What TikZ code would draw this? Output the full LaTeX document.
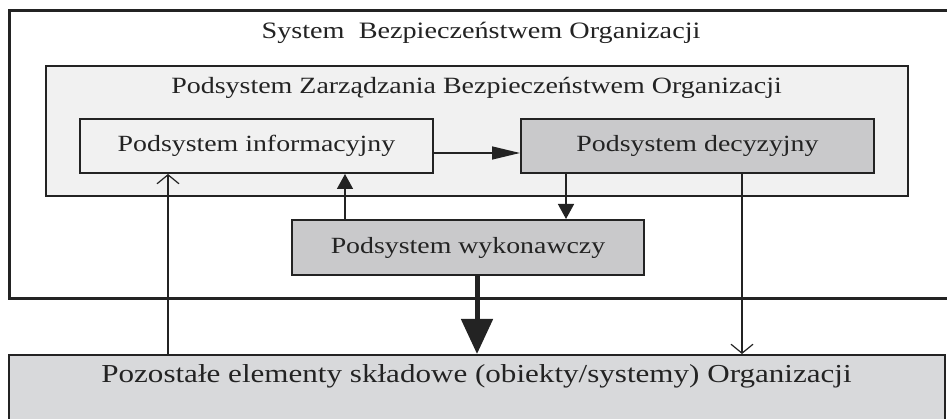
\documentclass[tikz,border=0pt]{standalone}
\usepackage{fontspec}
\setmainfont[FakeStretch=1.2]{Liberation Serif}
\usetikzlibrary{arrows.meta}

\definecolor{inkc}{RGB}{35,35,35}
\definecolor{paleg}{RGB}{241,241,241}
\definecolor{midg}{RGB}{201,201,203}
\definecolor{lowg}{RGB}{216,217,219}

\tikzset{
  frame/.style={draw=inkc, rectangle, inner sep=0pt},
  lbl/.style={text=inkc, inner sep=0pt, font=\fontsize{23.2}{27}\selectfont},
  flow/.style={draw=inkc, line width=1.5pt, -{Triangle[length=15pt,width=16pt]}},
  openflow/.style={draw=inkc, line width=1.5pt, -{Straight Barb[length=9pt,width=22pt,line width=1.2pt]}},
  bigflow/.style={draw=inkc, line width=5pt, -{Triangle[length=35pt,width=31pt]}}
}

\begin{document}
\begin{tikzpicture}[x=1pt,y=-1pt]
\useasboundingbox (0,0) rectangle (947,419);
\clip (0,0) rectangle (947,419);
\fill[white] (0,0) rectangle (947,419);

% outer system frame (runs past the right edge)
\node[frame, line width=3pt, minimum width=951pt, minimum height=288pt] (sys) at (484.5,155) {};
\node[lbl, font=\fontsize{23.5}{28}\selectfont] (systitle) at (481,33) {System\ \ Bezpieczeństwem Organizacji};

% management subsystem
\node[frame, line width=2pt, fill=paleg, minimum width=862pt, minimum height=130pt] (mgmt) at (477,131) {};
\node[lbl, font=\fontsize{23.3}{28}\selectfont] (mgmttitle) at (476.5,88) {Podsystem Zarządzania Bezpieczeństwem Organizacji};

% subsystems
\node[frame, line width=2pt, fill=paleg, minimum width=353pt, minimum height=54pt, lbl] (info) at (256.5,146) {Podsystem informacyjny};
\node[frame, line width=2pt, fill=midg, minimum width=353pt, minimum height=54pt, lbl] (dec) at (697.5,146) {Podsystem decyzyjny};
\node[frame, line width=2pt, fill=midg, minimum width=352pt, minimum height=55pt, lbl] (wyk) at (468,247.5) {Podsystem wykonawczy};

% remaining organisation elements (runs past the bottom edge)
\node[frame, line width=2pt, fill=lowg, minimum width=936pt, minimum height=75pt] (rest) at (477,392.5) {};
\node[lbl, font=\fontsize{25.9}{31}\selectfont] (resttitle) at (476.5,376) {Pozostałe elementy składowe (obiekty/systemy) Organizacji};

% connector end points
\coordinate (feedin) at ([xshift=-88.5pt]info.south);
\coordinate (wykup) at ([xshift=-123pt]wyk.north);
\coordinate (decdown) at ([xshift=-131.5pt]dec.south);
\coordinate (decout) at ([xshift=44.5pt]dec.south);

% connectors
\draw[flow, -{Triangle[length=28pt,width=13pt]}] ([yshift=-7pt]info.east) -- ([yshift=-7pt]dec.west);
\draw[openflow] (rest.north -| feedin) -- (feedin);
\draw[flow] (wykup) -- (info.south -| wykup);
\draw[flow] (decdown) -- (wyk.north -| decdown);
\draw[openflow] (decout) -- (rest.north -| decout);
\draw[bigflow] (wyk.south -| rest.north) -- (rest.north);
\end{tikzpicture}
\end{document}
